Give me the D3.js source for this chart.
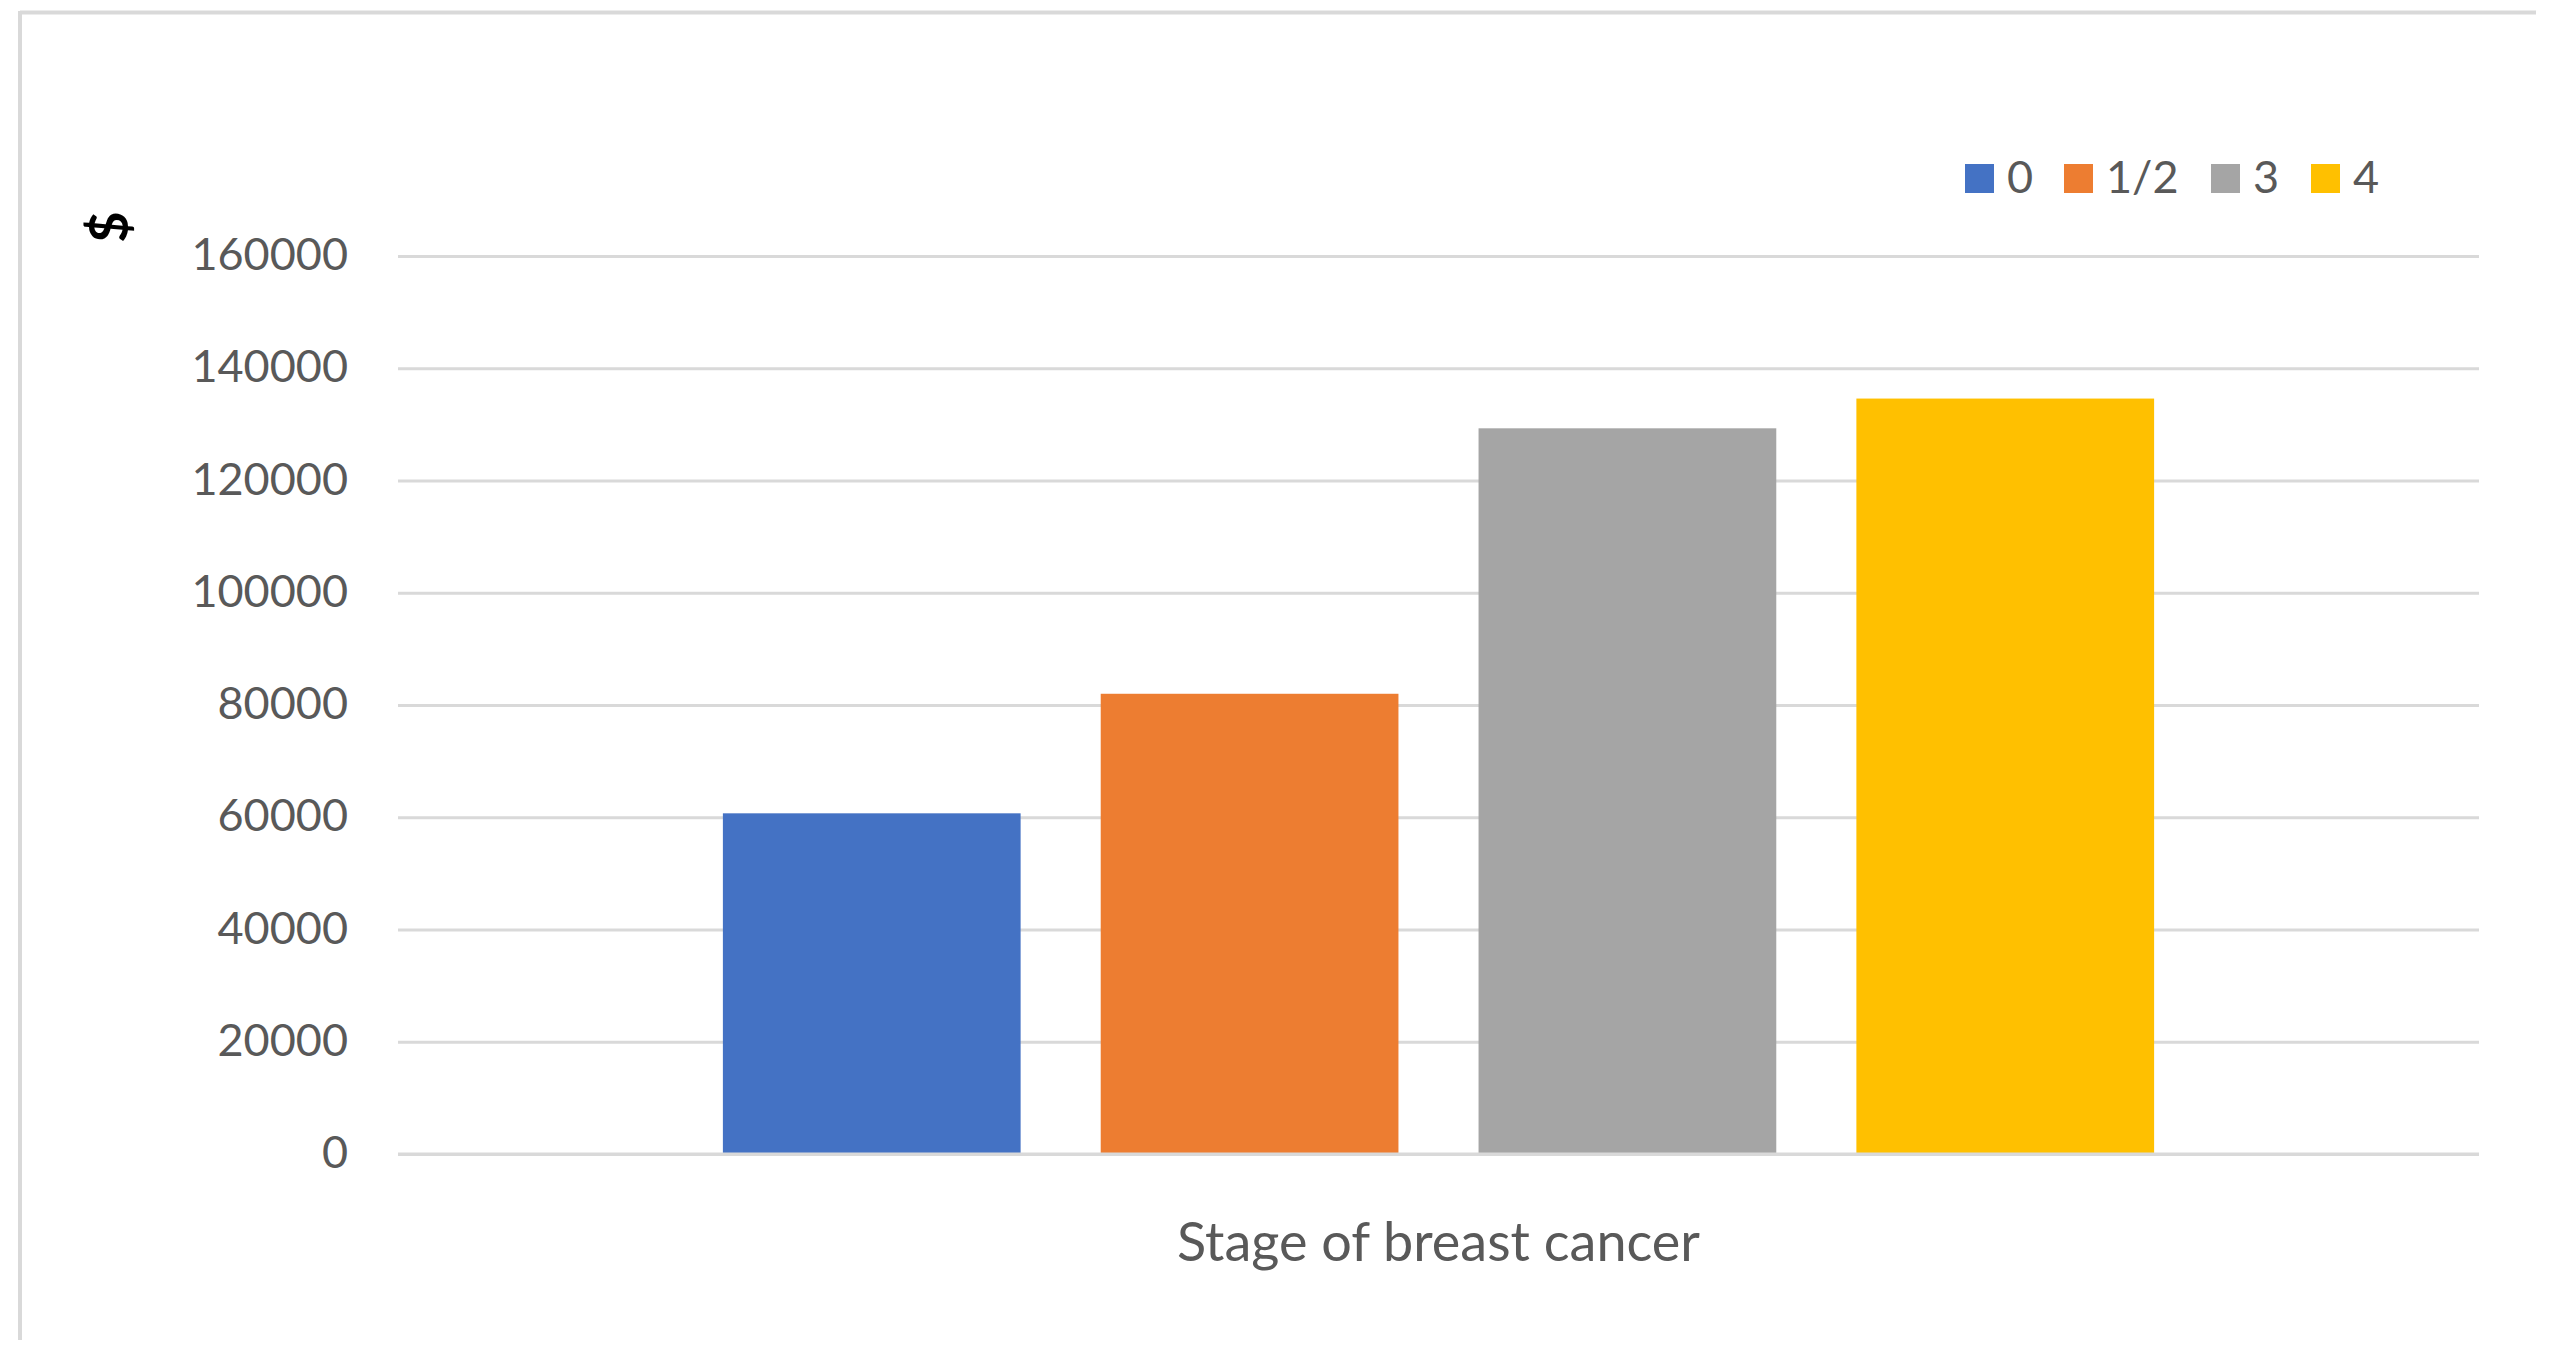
<!DOCTYPE html>
<html>
<head>
<meta charset="utf-8">
<script src="https://cdn.jsdelivr.net/npm/d3@7"></script>
<style>
  html, body { margin: 0; padding: 0; background: #ffffff; }
  svg { display: block; }
  text { font-family: Lato, "Open Sans", sans-serif; }
</style>
</head>
<body>
<svg id="chart" width="2557" height="1364"></svg>
<script>
// ---- data ----
const categories = ["Stage of breast cancer"];
const seriesNames = ["0", "1/2", "3", "4"];
const seriesValues = [60700, 82000, 129300, 134600];
const seriesColors = ["#4472C4", "#ED7D31", "#A5A5A5", "#FFC000"];
const yTicks = [0, 20000, 40000, 60000, 80000, 100000, 120000, 140000, 160000];
const yAxisTitle = "$";

// ---- layout ----
const W = 2557, H = 1364;
const plot = { left: 398, right: 2479, top: 256, bottom: 1154 };

const svg = d3.select("#chart");
svg.append("rect").attr("width", W).attr("height", H).attr("fill", "#ffffff");

// frame (top and left edges visible)
svg.append("line").attr("x1", 20).attr("x2", 2536).attr("y1", 12.5).attr("y2", 12.5)
  .attr("stroke", "#d9d9d9").attr("stroke-width", 4);
svg.append("line").attr("x1", 20).attr("x2", 20).attr("y1", 11).attr("y2", 1340)
  .attr("stroke", "#d9d9d9").attr("stroke-width", 4);

const y = d3.scaleLinear().domain([0, 160000]).range([plot.bottom, plot.top]);
const x0 = d3.scaleBand().domain(categories).range([plot.left, plot.right])
  .paddingInner(0).paddingOuter(0.227);
const x1 = d3.scaleBand().domain(seriesNames).range([0, x0.bandwidth()])
  .paddingInner(0.212).paddingOuter(0);

// gridlines via axis
const yAxis = d3.axisLeft(y).tickValues(yTicks)
  .tickSize(-(plot.right - plot.left)).tickPadding(50).tickFormat(d3.format("d"));
const gy = svg.append("g").attr("transform", `translate(${plot.left},0)`).call(yAxis);
gy.select(".domain").remove();
gy.selectAll(".tick line").attr("stroke", "#d9d9d9").attr("stroke-width", 3);
gy.selectAll(".tick text").attr("fill", "#595959").attr("font-size", 45)
  .attr("dy", "0.3em");

// bars
const data = seriesNames.map((s, i) => ({ cat: categories[0], name: s, value: seriesValues[i], color: seriesColors[i] }));
svg.append("g").selectAll("rect").data(data).join("rect")
  .attr("x", d => x0(d.cat) + x1(d.name))
  .attr("width", x1.bandwidth())
  .attr("y", d => y(d.value))
  .attr("height", d => y(0) - y(d.value))
  .attr("fill", d => d.color);

// baseline
svg.append("line").attr("x1", plot.left).attr("x2", plot.right)
  .attr("y1", y(0)).attr("y2", y(0)).attr("stroke", "#d9d9d9").attr("stroke-width", 3);

// x axis category label
const xt = svg.append("text").attr("x", x0(categories[0]) + x0.bandwidth() / 2).attr("y", 1261)
  .attr("text-anchor", "middle").attr("fill", "#595959").attr("font-size", 54)
  .text(categories[0]);
xt.attr("textLength", 523).attr("lengthAdjust", "spacingAndGlyphs");

// y axis title
svg.append("text").attr("transform", "translate(128,227) rotate(-90)")
  .attr("text-anchor", "middle").attr("fill", "#000000").attr("font-size", 54)
  .attr("font-weight", "bold").text(yAxisTitle);

// legend
const legendX = [1965, 2064, 2211, 2311];
const lg = svg.append("g").selectAll("g").data(data).join("g")
  .attr("transform", (d, i) => `translate(${legendX[i]},164)`);
lg.append("rect").attr("width", 29).attr("height", 29).attr("fill", d => d.color);
lg.append("text").attr("x", 42).attr("y", 29).attr("fill", "#595959")
  .attr("font-size", 45).text(d => d.name);
</script>
</body>
</html>
